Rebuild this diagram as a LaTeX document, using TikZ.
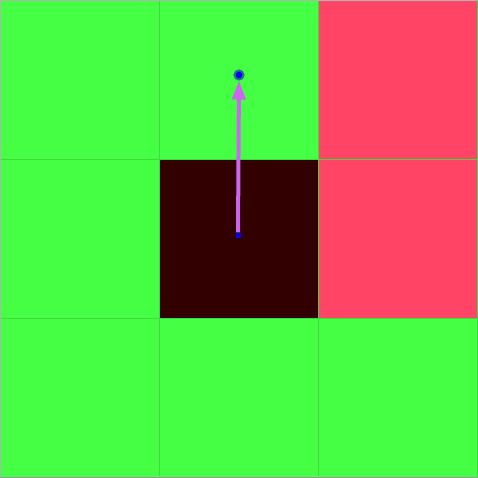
\documentclass[tikz,border=0pt]{standalone}
\usepackage{xcolor}
\usepackage{tikz}
\usetikzlibrary{positioning, arrows.meta}
\definecolor{freegreen}{HTML}{44FF44}
\definecolor{hazardred}{HTML}{FF4466}
\definecolor{wallbrown}{HTML}{330000}
\definecolor{gridgreen}{HTML}{3CDC3C}
\definecolor{movepurple}{HTML}{CC66EE}
\definecolor{goalring}{HTML}{1F6E8C}

\begin{document}
\begin{tikzpicture}[x=1pt, y=-1pt,
    cellbox/.style={minimum size=159pt, inner sep=0pt, outer sep=0pt,
                    draw=gridgreen, line width=0.6pt}]
  \useasboundingbox (0,0) rectangle (477,478);
  % grid of cells
  \foreach \r/\c/\col in {0/0/freegreen, 0/1/freegreen, 0/2/hazardred,
                          1/0/freegreen, 1/1/wallbrown, 1/2/hazardred,
                          2/0/freegreen, 2/1/freegreen, 2/2/freegreen}
    \node[cellbox, fill=\col] (cell-\r-\c) at (80+159*\c, 79.5+159*\r) {};
  \draw[gray!60, line width=0.8pt] (477,476.5) -- (0.4,476.5) -- (0.4,0.4) -- (477,0.4);
  % agent and goal
  \node[fill=blue, minimum size=5pt, inner sep=0pt] (agent) at (238,235) {};
  \node[circle, fill=blue, draw=goalring, line width=2pt, minimum size=9pt,
        inner sep=0pt] (goal) at (239,75) {};
  \draw[movepurple, line width=4pt, -{Triangle[width=13pt, length=19pt]}]
    (agent) -- (goal);
\end{tikzpicture}
\end{document}
